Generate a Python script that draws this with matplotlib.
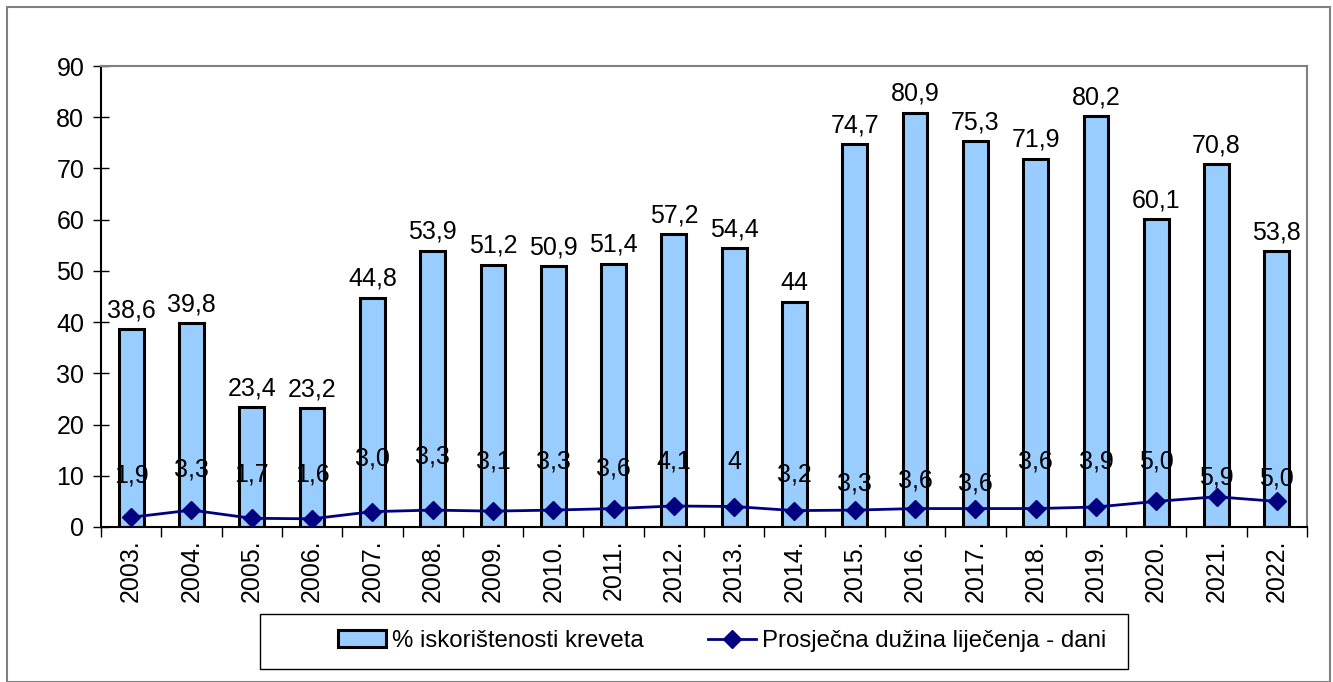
import matplotlib.pyplot as plt
from matplotlib.patches import Rectangle
import numpy as np

plt.rcParams['font.family'] = ['Liberation Sans', 'DejaVu Sans']

years = ['2003.', '2004.', '2005.', '2006.', '2007.', '2008.', '2009.', '2010.', '2011.', '2012.',
         '2013.', '2014.', '2015.', '2016.', '2017.', '2018.', '2019.', '2020.', '2021.', '2022.']
occupancy = [38.6, 39.8, 23.4, 23.2, 44.8, 53.9, 51.2, 50.9, 51.4, 57.2,
             54.4, 44, 74.7, 80.9, 75.3, 71.9, 80.2, 60.1, 70.8, 53.8]
occupancy_txt = ['38,6', '39,8', '23,4', '23,2', '44,8', '53,9', '51,2', '50,9', '51,4', '57,2',
                 '54,4', '44', '74,7', '80,9', '75,3', '71,9', '80,2', '60,1', '70,8', '53,8']
stay = [1.9, 3.3, 1.7, 1.6, 3.0, 3.3, 3.1, 3.3, 3.6, 4.1,
        4.0, 3.2, 3.3, 3.6, 3.6, 3.6, 3.9, 5.0, 5.9, 5.0]
stay_txt = ['1,9', '3,3', '1,7', '1,6', '3,0', '3,3', '3,1', '3,3', '3,6', '4,1',
            '4', '3,2', '3,3', '3,6', '3,6', '3,6', '3,9', '5,0', '5,9', '5,0']

# heights (data units) where the line labels sit
stay_label_y = [10.0, 11.3, 10.3, 10.3, 13.3, 13.7, 12.7, 12.7, 11.5, 12.7,
                12.7, 10.3, 8.4, 9.0, 8.4, 12.7, 12.7, 12.7, 9.6, 9.4]

fs = 18

fig = plt.figure(figsize=(13.33, 6.82), dpi=100)
fig.patches.append(Rectangle((7/1333, 0), 1323/1333, 675/682, transform=fig.transFigure,
                             fill=False, edgecolor='#808080', linewidth=1.5))
ax = fig.add_axes([101/1333, 1 - 527/682, 1206/1333, 461/682])

x = np.arange(len(years))
bars = ax.bar(x, occupancy, width=0.41, color='#99CCFF', edgecolor='black', linewidth=2.2,
              label='% iskorištenosti kreveta', zorder=2)
line, = ax.plot(x, stay, color='#000080', linewidth=2, marker='D', markersize=9,
                label='Prosječna dužina liječenja - dani', zorder=3)

for i in range(len(x)):
    ax.annotate(occupancy_txt[i], (x[i], occupancy[i]), xytext=(0, 5), textcoords='offset points',
                ha='center', va='bottom', fontsize=fs)
    ax.text(x[i], stay_label_y[i], stay_txt[i], ha='center', va='center', fontsize=fs, zorder=4)

ax.set_xlim(-0.5, len(x) - 0.5)
ax.set_ylim(0, 90)
ax.set_yticks(np.arange(0, 91, 10))
ax.set_xticks(x)
ax.set_xticklabels(years, rotation=90)
ax.set_xticks(np.arange(-0.5, len(x), 1), minor=True)
ax.tick_params(axis='x', which='major', length=0, labelsize=fs, pad=9)
ax.tick_params(axis='x', which='minor', length=7, width=1, direction='out')
ax.tick_params(axis='y', length=12, width=1, direction='inout', labelsize=fs, pad=6)

ax.spines['top'].set_color('#808080')
ax.spines['right'].set_color('#808080')
for s in ['top', 'right', 'left', 'bottom']:
    ax.spines[s].set_linewidth(1.5)

# legend box
fig.patches.append(Rectangle((260/1333, 1 - 669/682), 868/1333, 55/682, transform=fig.transFigure,
                             fill=False, edgecolor='black', linewidth=1))
fig.legend(handles=[bars, line], loc='center', bbox_to_anchor=(722/1333, 1 - 641/682), ncol=2,
           fontsize=17.3, frameon=False, columnspacing=2.7, handlelength=2.0, handletextpad=0.25)

fig.savefig('out.png', dpi=100)
